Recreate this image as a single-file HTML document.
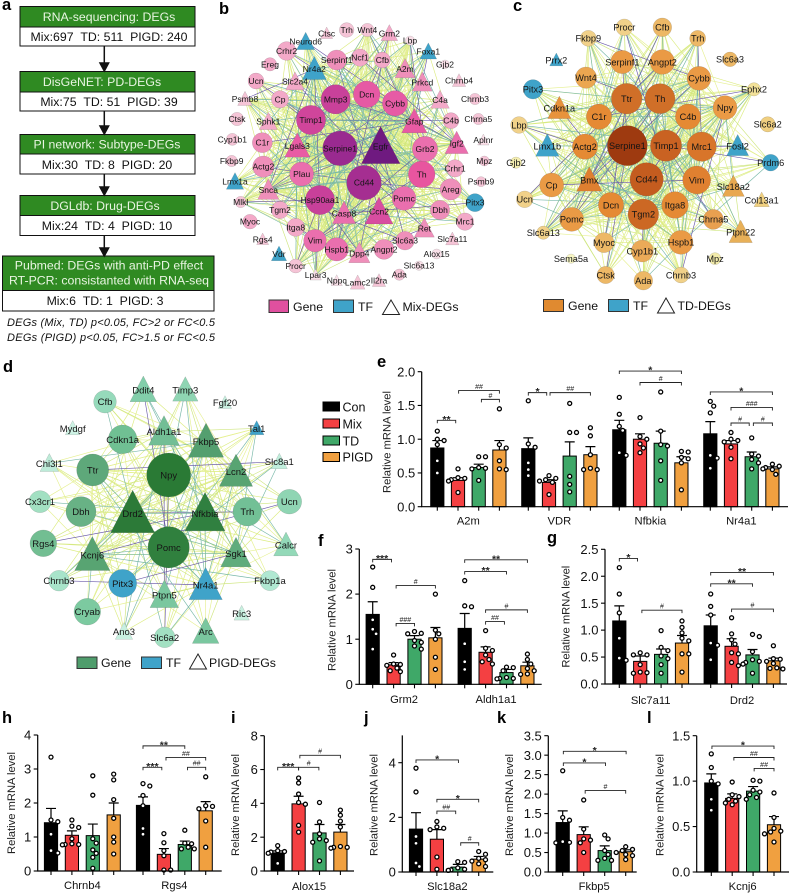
<!DOCTYPE html>
<html><head><meta charset="utf-8"><title>Subtype DEG figure</title>
<style>
html,body{margin:0;padding:0;background:#fff}
svg{display:block;font-family:"Liberation Sans",Arial,sans-serif}
</style></head><body>
<svg id="fig" width="790" height="894" viewBox="0 0 790 894" xmlns="http://www.w3.org/2000/svg">
<g font-size="12.3" text-anchor="middle">
<g>
<rect x="20" y="6.5" width="175" height="20.5" fill="#2f8a22" stroke="#111" stroke-width="1"/>
<rect x="20" y="27" width="175" height="19" fill="#fff" stroke="#111" stroke-width="1"/>
<text x="109" y="21" fill="#e9f5e2">RNA-sequencing: DEGs</text>
<text x="109" y="41" fill="#111">Mix:697&#160;&#160;TD: 511&#160;&#160;PIGD: 240</text></g>
<g>
<rect x="20" y="71.5" width="175" height="20.5" fill="#2f8a22" stroke="#111"/>
<rect x="20" y="92" width="175" height="19" fill="#fff" stroke="#111"/>
<text x="102" y="86" fill="#e9f5e2">DisGeNET: PD-DEGs</text>
<text x="109" y="106" fill="#111">Mix:75&#160;&#160;TD: 51&#160;&#160;PIGD: 39</text></g>
<g>
<rect x="20" y="134.5" width="175" height="19.5" fill="#2f8a22" stroke="#111"/>
<rect x="20" y="154" width="175" height="20" fill="#fff" stroke="#111"/>
<text x="107" y="148.5" fill="#e9f5e2">PI network: Subtype-DEGs</text>
<text x="107" y="169" fill="#111">Mix:30&#160;&#160;TD: 8&#160;&#160;PIGD: 20</text></g>
<g>
<rect x="20" y="195.5" width="175" height="20" fill="#2f8a22" stroke="#111"/>
<rect x="20" y="215.5" width="175" height="20" fill="#fff" stroke="#111"/>
<text x="105" y="210" fill="#e9f5e2">DGLdb: Drug-DEGs</text>
<text x="107" y="230" fill="#111">Mix:24&#160;&#160;TD: 4&#160;&#160;PIGD: 10</text></g>
<g>
<rect x="2.5" y="256" width="211.5" height="34.5" fill="#2f8a22" stroke="#111"/>
<rect x="2.5" y="290.5" width="211.5" height="20.5" fill="#fff" stroke="#111"/>
<text x="109" y="269.5" fill="#e9f5e2">Pubmed: DEGs with anti-PD effect</text>
<text x="109" y="284.5" fill="#e9f5e2">RT-PCR: consistanted with RNA-seq</text>
<text x="105" y="305" fill="#111">Mix:6&#160;&#160;TD: 1&#160;&#160;PIGD: 3</text></g>
<g stroke="#111" stroke-width="1.5" fill="#111">
<path d="M104.3 46V64M100 63h8.6l-4.3 8z"/>
<path d="M104.3 111V127M100 126h8.6l-4.3 8z"/>
<path d="M104.3 174V188M100 187h8.6l-4.3 8z"/>
<path d="M104.3 235.5V249M100 248h8.6l-4.3 8z"/></g>
<g font-style="italic" font-size="11" text-anchor="start" fill="#111">
<text x="7" y="326" textLength="208">DEGs (Mix, TD) p&lt;0.05, FC&gt;2 or FC&lt;0.5</text>
<text x="7" y="341" textLength="208">DEGs (PIGD) p&lt;0.05, FC&gt;1.5 or FC&lt;0.5</text></g>
</g>
<g font-size="16.5" font-weight="bold" fill="#000">
<text x="2" y="10">a</text>
<text x="219" y="14">b</text>
<text x="513" y="11">c</text>
<text x="3" y="372">d</text>
<text x="377" y="367">e</text>
<text x="318" y="546">f</text>
<text x="547" y="543">g</text>
<text x="2" y="723">h</text>
<text x="231" y="723">i</text>
<text x="364" y="723">j</text>
<text x="497" y="723">k</text>
<text x="647" y="723">l</text>
</g>
<g id="nets"></g>
<g font-size="12.3" fill="#111">
<rect x="269" y="300" width="19.5" height="12.5" fill="#e0509f" stroke="#333"/>
<text x="293" y="311">Gene</text>
<rect x="333.5" y="300" width="20" height="12.5" fill="#3fa3c9" stroke="#333"/>
<text x="358" y="311">TF</text>
<path d="M391 300L399.5 314.5H382.5Z" fill="#fff" stroke="#222"/>
<text x="402.5" y="311">Mix-DEGs</text>
</g>
<g font-size="12.3" fill="#111">
<rect x="543.5" y="299.5" width="20" height="12" fill="#e08a30" stroke="#333"/>
<text x="568" y="310">Gene</text>
<rect x="608.5" y="299.5" width="20" height="12" fill="#3fa3c9" stroke="#333"/>
<text x="633" y="310">TF</text>
<path d="M666 298L674.5 313H657.5Z" fill="#fff" stroke="#222"/>
<text x="677.5" y="310">TD-DEGs</text>
</g>
<g font-size="12.3" fill="#111">
<rect x="77" y="657" width="20" height="11.5" fill="#4f9d6c" stroke="#333"/>
<text x="101" y="667">Gene</text>
<rect x="141.5" y="657" width="20" height="11.5" fill="#3fa3c9" stroke="#333"/>
<text x="166" y="667">TF</text>
<path d="M198 654L206.5 669H189.5Z" fill="#fff" stroke="#222"/>
<text x="209" y="667">PIGD-DEGs</text>
</g>
<g font-size="12.5" fill="#111">
<rect x="323" y="402" width="16.5" height="9" fill="#000" stroke="#000"/>
<text x="342.5" y="411.5">Con</text>
<rect x="323" y="419" width="16.5" height="9" fill="#f44042" stroke="#000"/>
<text x="342.5" y="428.5">Mix</text>
<rect x="323" y="436" width="16.5" height="9" fill="#3fa868" stroke="#000"/>
<text x="342.5" y="445.5">TD</text>
<rect x="323" y="452.5" width="16.5" height="9" fill="#f0a040" stroke="#000"/>
<text x="342.5" y="461.5">PIGD</text>
</g>
<g id="charts"></g>
</svg>
<script>
/* ---------- bar chart data ---------- */
const genesE=['A2m','VDR','Nfbkia','Nr4a1'];
const ticksE=[0,0.5,1,1.5,2];
const tickLabelsE=['0.0','0.5','1.0','1.5','2.0'];
const meansE=[.87,.39,.58,.84, .86,.36,.75,.77, 1.14,1.0,.94,.65, 1.08,.93,.74,.56];
const errorsE=[.11,.04,.05,.14, .16,.04,.21,.12, .14,.08,.18,.09, .18,.05,.07,.03];
const pointsE=[[1.12,1.0,.98,.92,.68,.5],[.56,.43,.42,.40,.38,.21],[.74,.74,.58,.57,.56,.39],[1.45,.92,.87,.68,.56,.55],
[1.57,.93,.88,.65,.55,.46],[.46,.42,.40,.38,.36,.18],[1.53,1.1,.45,.33,.22,1.1],[1.17,1.05,.77,.57,.55,.55],
[1.62,1.37,1.19,1.13,.8,.76],[1.32,1.04,1.0,.93,.87,.8],[1.7,1.12,.92,.9,.68,.39],[.82,.81,.73,.71,.65,.25],
[1.56,1.49,1.39,.76,.72,.57],[1.1,1.0,.98,.96,.88,.71],[1.02,.78,.75,.7,.65,.56],[.63,.6,.58,.56,.55,.48]];
const bracketsE=[[0,.89,1.28,'**'],[1.03,3,1.72,'##'],[2.13,3,1.59,'#'],[4,4.89,1.69,'*'],[5.05,7,1.69,'##'],[8,11,2.01,'*'],[9,11,1.84,'#'],[12,15,1.70,'*'],[13,15,1.47,'###'],[13,13.88,1.24,'#'],[14.08,15,1.24,'#']];

const genesF=['Grm2','Aldh1a1'];
const ticksF=[0,1,2,3];
const tickLabelsF=['0','1','2','3'];
const meansF=[1.55,.43,1.0,1.03, 1.24,.71,.26,.41];
const errorsF=[.28,.05,.08,.23, .33,.12,.07,.08];
const pointsF=[[2.6,2.15,1.43,1.22,1.12,.78],[.65,.45,.44,.42,.36,.3,.28],[1.17,1.13,1.12,.97,.93,.85,.78],[2.0,1.2,1.12,1.0,.6,.33],
[2.3,1.74,1.72,.9,.5,.33],[1.19,.8,.75,.65,.55,.5,.45],[.38,.37,.3,.15,.13,.12,.13],[.67,.55,.45,.35,.3,.23,.22]];
const bracketsF=[[0,.9,2.77,'***'],[1.12,3,2.19,'#'],[1.12,2,1.35,'###'],[4,7,2.76,'**'],[4,6,2.5,'**'],[5,7,1.65,'#'],[5,5.9,1.39,'##']];

const genesG=['Slc7a11','Drd2'];
const ticksG=[0,.5,1,1.5,2,2.5];
const tickLabelsG=['0.0','0.5','1.0','1.5','2.0','2.5'];
const meansG=[1.17,.42,.55,.76, 1.08,.7,.54,.43];
const errorsG=[.28,.1,.1,.14, .2,.14,.1,.05];
const pointsG=[[2.16,1.67,1.32,.85,.48,.44],[.58,.54,.54,.36,.22,.2,.21],[.99,.68,.62,.52,.47,.36,.2],[1.17,1.05,.95,.85,.8,.56,.56,.22],
[1.67,1.44,1.28,.76,.72,.45],[1.23,.93,.82,.74,.58,.56,.4,.34],[.92,.88,.6,.45,.42,.4,.37,.2],[.71,.47,.46,.42,.38,.3,.29,.28]];
const bracketsG=[[0,.87,2.33,'*'],[1.08,3,1.37,'#'],[4,7,2.07,'**'],[4,6,1.86,'**'],[5,7,1.39,'#']];

const genesH=['Chrnb4','Rgs4'];
const ticksH=[0,1,2,3,4];
const tickLabelsH=['0','1','2','3','4'];
const meansH=[1.42,1.05,1.04,1.65, 1.93,.49,.78,1.77];
const errorsH=[.42,.13,.34,.35, .25,.17,.1,.27];
const pointsH=[[3.35,1.5,1.45,1.08,.6,.53],[1.5,1.32,1.28,.95,.8,.78,.77,.78],[2.8,2.23,.95,.82,.62,.52,.4,.08],[2.85,2.68,2.1,1.55,1.0,.85,.5],
[2.57,2.5,2.22,1.92,1.25,1.08],[1.1,.83,.6,.45,.03,.03],[1.2,.82,.8,.7,.65,.65],[2.77,1.9,1.92,1.83,1.47,.7]];
const bracketsH=[[4,6,3.68,'**'],[5.1,7,3.34,'##'],[4,4.9,3.05,'***'],[6.13,7,3.05,'##']];

const genesI=['Alox15'];
const ticksI=[0,2,4,6,8];
const tickLabelsI=['0','2','4','6','8'];
const meansI=[1.07,3.97,2.25,2.3];
const errorsI=[.12,.45,.5,.45];
const pointsI=[[1.5,1.2,1.15,1.12,1.05,.45],[5.5,5.2,4.55,4.05,3.95,2.7,2.3],[4.05,2.9,2.2,1.9,1.8,1.7,.6],[3.6,3.3,2.95,2.6,1.45,1.4,1.35,1.4]];
const bracketsI=[[0,1,6.13,'***'],[1,1.97,6.13,'#'],[1.06,3,6.84,'#']];

const genesJ=['Slc18a2'];
const ticksJ=[0,2,4];
const tickLabelsJ=['0','2','4'];
const meansJ=[1.57,1.2,.18,.47];
const errorsJ=[.6,.35,.1,.1];
const pointsJ=[[3.8,2.93,1.3,1.05,.33,.2],[1.85,1.65,1.6,1.55,.55,.1],[.38,.35,.15,.1,.08,.06,.06],[.75,.65,.5,.45,.4,.3,.2]];
const bracketsJ=[[0,2.03,4.1,'*'],[1,3,2.66,'*'],[1,1.9,2.23,'##'],[2.14,3,1.07,'#']];

const genesK=['Fkbp5'];
const ticksK=[0,.5,1,1.5,2,2.5,3,3.5];
const tickLabelsK=['0.0','0.5','1.0','1.5','2.0','2.5','3.0','3.5'];
const meansK=[1.27,.96,.55,.52];
const errorsK=[.3,.2,.12,.05];
const pointsK=[[2.6,1.4,1.33,.78,.76,.75],[1.85,1.1,.85,.82,.75,.5],[.95,.85,.55,.45,.35,.3,.3],[.65,.58,.55,.5,.45,.42,.32]];
const bracketsK=[[.03,3.02,3.1,'*'],[.03,2.04,2.8,'*'],[1.07,3,2.09,'#']];

const genesL=['Kcnj6'];
const ticksL=[0,.5,1,1.5];
const tickLabelsL=['0.0','0.5','1.0','1.5'];
const meansL=[.98,.81,.89,.52];
const errorsL=[.1,.05,.05,.09];
const pointsL=[[1.3,1.15,1.0,.97,.8,.68],[.99,.85,.83,.8,.78,.76,.74],[1.01,1.0,.9,.88,.85,.82,.8],[.87,.6,.48,.45,.44,.42,.33]];
const bracketsL=[[.03,3,1.386,'*'],[1.08,3,1.26,'##'],[2.05,3,1.14,'##']];

const barColors=['#000000','#f44042','#3fa868','#f0a040'];
const groupNames=['con','mix','td','pigd'];

/* panel geometry */
const panelLayouts=[
{id:'e',genes:genesE,ticks:ticksE,labels:tickLabelsE,means:meansE,errors:errorsE,points:pointsE,brackets:bracketsE,ax:421.7,right:788,y0:506.7,yTop:371.7,dMax:2,top:2,x0:437.3,step:20.7,pitch:91,tx:386.7,ty:442,lab:524.5},
{id:'f',genes:genesF,ticks:ticksF,labels:tickLabelsF,means:meansF,errors:errorsF,points:pointsF,brackets:bracketsF,ax:359.3,right:541.7,y0:684.3,yTop:549,dMax:3,top:3,x0:372.7,step:20.9,pitch:92,tx:331.7,ty:620,lab:703},
{id:'g',genes:genesG,ticks:ticksG,labels:tickLabelsG,means:meansG,errors:errorsG,points:pointsG,brackets:bracketsG,ax:605,right:787,y0:684,yTop:549.3,dMax:2.5,top:2.5,x0:619.3,step:20.9,pitch:91.4,tx:565.7,ty:616.7,lab:704},
{id:'h',genes:genesH,ticks:ticksH,labels:tickLabelsH,means:meansH,errors:errorsH,points:pointsH,brackets:bracketsH,ax:37.7,right:221.7,y0:871,yTop:735,dMax:4,top:4,x0:51,step:20.9,pitch:92,tx:11,ty:803,lab:889},
{id:'i',genes:genesI,ticks:ticksI,labels:tickLabelsI,means:meansI,errors:errorsI,points:pointsI,brackets:bracketsI,ax:264.3,right:354,y0:871,yTop:735.7,dMax:8,top:8,x0:277.7,step:20.9,pitch:92,tx:235,ty:805,lab:890},
{id:'j',genes:genesJ,ticks:ticksJ,labels:tickLabelsJ,means:meansJ,errors:errorsJ,points:pointsJ,brackets:bracketsJ,ax:402.3,right:493.3,y0:872,yTop:762.7,dMax:4,top:5,x0:416,step:20.9,pitch:92,tx:373.3,ty:805,lab:890},
{id:'k',genes:genesK,ticks:ticksK,labels:tickLabelsK,means:meansK,errors:errorsK,points:pointsK,brackets:bracketsK,ax:548.3,right:636.7,y0:872,yTop:735.7,dMax:3.5,top:3.5,x0:562.7,step:21,pitch:92,tx:509,ty:805,lab:890},
{id:'l',genes:genesL,ticks:ticksL,labels:tickLabelsL,means:meansL,errors:errorsL,points:pointsL,brackets:bracketsL,ax:696.7,right:789,y0:872,yTop:735.7,dMax:1.5,top:1.5,x0:711.3,step:20.9,pitch:92,tx:659.3,ty:805,lab:890}
];

const NS='http://www.w3.org/2000/svg';
function make(parent,tag,attrs,txt){
  const el=document.createElementNS(NS,tag);
  for(const k in attrs) el.setAttribute(k,attrs[k]);
  if(txt!==undefined) el.textContent=txt;
  parent.appendChild(el);
  return el;
}
function swarm(values,yFn){
  const placed=[];
  const sorted=values.slice().sort((a,b)=>b-a);
  sorted.forEach(v=>{
    const py=yFn(v);
    const cands=[0,3.4,-3.4,6.8,-6.8,9.5,-9.5];
    let chosen=cands[cands.length-1];
    for(const c of cands){
      if(placed.every(p=>Math.hypot(p.dx-c,p.py-py)>=4.8)){chosen=c;break;}
    }
    placed.push({dx:chosen,py:py,v:v});
  });
  return placed;
}
function drawPanel(p){
  const root=document.getElementById('charts');
  const g=make(root,'g',{});
  
  
  const y=v=>p.y0-(v/p.dMax)*(p.y0-p.yTop);
  const x=i=>p.x0+Math.floor(i/4)*p.pitch+(i%4)*p.step;
  const xf=f=>{const n=Math.floor(f);return x(n)+(f-n)*p.step;};
  const bw=13.2;
  /* bars */
  p.means.forEach((m,i)=>{
    const c=barColors[i%4];
    const bar=make(g,'rect',{x:x(i)-bw/2,y:y(m),width:bw,height:p.y0-y(m),fill:c,stroke:'#000','stroke-width':1});
    
    
  });
  /* error bars */
  p.errors.forEach((e,i)=>{
    const t=y(p.means[i]+e);
    const eb=make(g,'path',{d:'M'+x(i)+' '+y(p.means[i])+'V'+t+'M'+(x(i)-5)+' '+t+'H'+(x(i)+5),fill:'none',stroke:'#000','stroke-width':1.2});
    
    
  });
  /* points */
  p.points.forEach((vals,i)=>{
    swarm(vals,y).forEach(pt=>{
      const d=make(g,'circle',{cx:x(i)+pt.dx,cy:pt.py,r:2,fill:'#fff',stroke:'#000','stroke-width':1.3});
      
      
    });
  });
  /* axes */
  const axes=make(g,'path',{d:'M'+p.ax+' '+(p.y0-(p.top/p.dMax)*(p.y0-p.yTop))+'V'+p.y0+'H'+p.right,fill:'none',stroke:'#000','stroke-width':1.2});
  
  
  p.ticks.forEach((t,k)=>{
    const tk=make(g,'path',{d:'M'+(p.ax-4)+' '+y(t)+'H'+p.ax,stroke:'#000','stroke-width':1.1});
    
    
    const lb=make(g,'text',{x:p.ax-6.5,y:y(t)+4.6,'font-size':13,'text-anchor':'end',fill:'#111'},p.labels[k]);
    
    
  });
  p.means.forEach((m,i)=>{
    const tk=make(g,'path',{d:'M'+x(i)+' '+p.y0+'v4',stroke:'#000','stroke-width':1.1});
    
    
  });
  p.genes.forEach((name,k)=>{
    const cx=(x(k*4)+x(k*4+3))/2;
    const lb=make(g,'text',{x:cx,y:p.lab,'font-size':11.2,'text-anchor':'middle',fill:'#111'},name);
    
    
  });
  const title=make(g,'text',{transform:'translate('+p.tx+' '+p.ty+') rotate(-90)','font-size':11.2,'text-anchor':'middle',y:4,fill:'#222'},'Relative mRNA level');
  
  
  /* significance brackets */
  p.brackets.forEach(b=>{
    const x1=xf(b[0]),x2=xf(b[1]),yy=y(b[2]);
    const br=make(g,'path',{d:'M'+x1+' '+(yy+3)+'V'+yy+'H'+x2+'V'+(yy+3),fill:'none',stroke:'#222','stroke-width':.9});
    
    
    const star=b[3][0]==='*';
    const lb=make(g,'text',{x:(x1+x2)/2,y:star?yy+2.5:yy-1.6,'font-size':star?10.5:7,'text-anchor':'middle','font-weight':star?'bold':'normal',fill:'#222'},b[3]);
    
    
  });
}
panelLayouts.forEach(drawPanel);

/* ---------- networks: [label, x, y, size, shape(c/t), colour] in 3x crop units ---------- */
const P1='#f5c4d6',P2='#f3a9c8',P3='#ef8fba',P4='#ea6fae',B='#3fa3c9';
const netB=[['Egfr',527,440,58,'t','#6f1a80'],['Serpine1',405,445,52,'c','#9a2a90'],['Cd44',477,548,52,'c','#a52e91'],['Mmp3',392,298,44,'c','#c9419a'],['Timp1',318,360,44,'c','#d0459b'],['Hsp90aa1',345,600,44,'c','#c8409a'],['Th',650,523,40,'c','#e8559f'],['Dcn',485,283,40,'c','#e659a4'],['Cybb',570,310,38,'c','#e65ba5'],['Grb2',660,447,38,'c',P4],['Pomc',597,595,36,'c',P4],['Plau',290,522,36,'c',P4],['Ccn2',522,635,42,'t','#d84da0'],['Gfap',628,365,38,'t','#e85ba4'],['Lgals3',277,438,38,'t','#e85ba4'],['Casp8',417,640,35,'t',P4],['Igf2',755,430,35,'t',P4],['Vim',330,722,34,'c',P4],['Hspb1',395,748,35,'c',P4],['Snca',190,570,32,'t',P3],['Dpp4',463,760,32,'t',P3],['C1r',172,428,30,'c',P3],['Actg2',175,500,32,'c',P3],['Cp',225,298,26,'c',P2],['Ucn',153,243,24,'c',P2],['Crhr2',245,153,28,'c',P2],['Serpinf1',395,180,30,'c',P3],['Ncf1',465,173,26,'c',P2],['Cfb',532,180,24,'c',P2],['Trh',425,90,22,'c',P1],['Wnt4',487,90,20,'c',P1],['Ereg',195,193,20,'c',P2],['Ctsk',96,357,20,'c',P1],['Cyp1b1',82,418,18,'c',P1],['Fkbp9',80,483,17,'c',P1],['Mlkl',107,606,17,'c',P1],['Myoc',135,665,22,'c',P2],['Tgm2',225,630,26,'c',P2],['Itga8',272,682,27,'c',P2],['Angpt2',537,748,30,'c',P3],['Slc6a3',600,722,28,'c',P3],['Dbh',705,630,29,'c',P3],['Areg',737,568,32,'c',P3],['Crhr1',750,505,26,'c',P2],['C4b',738,362,24,'c',P2],['Mrc1',780,665,26,'c',P2],['Chrnb3',810,297,17,'c',P1],['Chrna5',820,357,17,'c',P1],['Mpz',838,483,15,'c',P1],['Psmb9',828,545,15,'c',P1],['Lbp',615,122,14,'c','#f9dfe8'],['Gjb2',720,193,13,'c','#f9dfe8'],['Alox15',695,762,15,'c','#f9dfe8'],['Slc6a13',642,797,14,'c','#f9dfe8'],['Ada',583,824,17,'c',P1],['Procr',272,798,21,'c',P1],['Pitx3',810,608,27,'c',B],['Ctsc',365,100,18,'t',P1],['Grm2',553,100,25,'t',P2],['Neurod6',302,125,27,'t',B],['Nr4a2',328,207,36,'t',B],['Foxa1',670,155,25,'t',B],['A2m',600,207,30,'t',P3],['Slc2a4',270,245,28,'t',P2],['Prkcd',652,247,30,'t',P3],['Psmb8',120,297,22,'t',P1],['C4a',705,300,28,'t',P2],['Chrnb4',762,242,20,'t',P1],['Sphk1',190,365,27,'t',P2],['Aplnr',835,420,17,'t','#f9dfe8'],['Lmx1a',90,545,26,'t',B],['Ret',658,685,30,'t',P3],['Slc7a11',742,717,20,'t',P1],['Rgs4',173,718,18,'t',P1],['Vdr',222,762,23,'t',B],['Lpar3',332,825,17,'t','#f9dfe8'],['Nppc',395,842,17,'t','#f9dfe8'],['Lamc2',458,848,22,'t',P1],['Il2ra',522,842,20,'t',P1]];
const O1='#f1d189',O2='#edb866',O3='#ea9a45',O4='#e58a34';
const netC=[['Serpine1',412,437,60,'c','#9e3a10'],['Cd44',470,538,50,'c','#c45c1f'],['Timp1',528,437,47,'c','#c96222'],['Ttr',410,296,46,'c','#d06f28'],['Tgm2',460,643,46,'c','#cc6824'],['Th',510,296,45,'c','#d06f28'],['Mrc1',635,440,44,'c','#d8752a'],['Vim',620,540,42,'c','#e08030'],['Itga8',555,615,40,'c',O4],['Bmx',298,540,38,'t','#df7f30'],['C1r',327,350,38,'c',O4],['C4b',594,350,38,'c',O4],['Actg2',285,440,38,'c',O4],['Dcn',363,615,38,'c',O4],['Pomc',245,658,36,'c',O3],['Hspb1',573,727,36,'c',O3],['Cp',185,555,36,'c',O3],['Npy',705,323,36,'c',O3],['Cybb',627,235,36,'c',O3],['Angpt2',517,186,37,'c',O3],['Serpinf1',397,186,35,'c',O3],['Wnt4',288,233,32,'c','#eba650'],['Chrna5',670,658,30,'c','#e8a050'],['Myoc',342,728,30,'c',O2],['Cyp1b1',457,753,33,'c','#ebaa58'],['Cfb',517,82,28,'c',O2],['Trh',623,115,24,'c',O2],['Slc6a3',720,178,22,'c',O2],['Procr',403,82,25,'c',O1],['Fkbp9',295,115,24,'c',O1],['Ephx2',792,268,20,'c','#f2e199'],['Slc6a2',833,373,23,'c','#f0cf80'],['Lbp',87,375,25,'c',O1],['Gjb2',78,488,17,'c','#f4eeb0'],['Ucn',104,598,25,'c',O1],['Slc6a13',160,698,20,'c',O1],['Sema5a',243,776,14,'c','#f8f6c4'],['Mpz',675,776,18,'c','#f2ebaa'],['Chrnb3',573,825,24,'c',O1],['Ada',460,842,28,'c',O2],['Ctsk',347,825,26,'c',O2],['Pitx3',129,268,29,'c',B],['Prdm6',842,488,25,'c',B],['Prrx2',199,180,20,'t',B],['Cdkn1a',208,325,35,'t','#e8933c'],['Lmx1b',172,438,35,'t',B],['Fosl2',743,438,33,'t',B],['Slc18a2',730,560,33,'t','#e8a850'],['Col13a1',815,600,23,'t','#f0d080'],['Ptpn22',752,697,35,'t','#e8b058']];
const G1='#c8f0e0',G2='#a2e0c2',G3='#8fd5b3',G4='#72be95';
const netD=[['Npy',506,375,66,'c','#2a7a35'],['Pomc',506,592,62,'c','#30803e'],['Drd2',398,490,66,'t','#2c7a38'],['Nfkbia',615,490,60,'t','#308040'],['Fkbp5',618,275,53,'t','#549f6f'],['Kcnj6',277,615,53,'t','#58a472'],['Lcn2',708,365,50,'t','#58a472'],['Ttr',278,360,48,'c','#5ea87a'],['Dbh',243,485,45,'c','#68b285'],['Sgk1',708,610,46,'t','#60ac7c'],['Aldh1a1',492,245,46,'t',G4],['Trh',742,485,43,'c','#72c096'],['Cdkn1a',368,268,43,'c','#70c093'],['Rgs4',130,580,40,'c','#72be92'],['Cfb',315,155,34,'c','#96dabb'],['Ucn',868,455,37,'c',G3],['Cx3cr1',120,455,33,'c',G2],['Chrnb3',177,692,31,'c','#a8e4ca'],['Cryab',262,785,40,'c','#7ccaa0'],['Pitx3',368,700,42,'c',B],['Slc6a2',494,862,31,'c',G2],['Fkbp1a',810,692,30,'c','#b0e8d2'],['Ddit4',430,120,40,'t','#82ceaa'],['Timp3',556,120,38,'t',G3],['Fgf20',675,158,20,'t',G1],['Tal1',770,235,22,'t',B],['Mydgf',218,235,22,'t','#cdf2e4'],['Chi3l1',148,340,28,'t','#bdebd8'],['Slc8a1',838,335,24,'t','#c0eedc'],['Calcr',858,585,37,'t','#93d9b8'],['Ptpn5',493,735,43,'t','#7ac79f'],['Nr4a1',617,705,50,'t',B],['Ric3',725,790,23,'t',G1],['Ano3',372,845,26,'t',G1],['Arc',617,845,40,'t','#7ac79f']];

const edgeYellow=['#dcec80','#e6f092','#cfe67f'];
function drawNet(name,nodes,ox,oy,hubCount,fontSize,skipMod){
  const root=document.getElementById('nets');
  const g=make(root,'g',{});
  
  
  const edges=make(g,'g',{fill:'none','stroke-width':.65});
  
  
  const X=n=>ox+n[1]/3, Y=n=>oy+n[2]/3;
  const hubs=nodes.slice().sort((a,b)=>b[3]-a[3]).slice(0,hubCount);
  const pairs=[];
  hubs.forEach((h,i)=>{
    nodes.forEach((n,j)=>{
      if(n===h) return;
      const sel=i*5+j*7;
      /* small outer nodes have few links, larger nodes have many */
      if(n[3]<24){ if(sel%5!==0) return; }
      else if(sel%skipMod===0) return;
      const k=(i*3+j*7)%20;
      pairs.push([h,n,k]);
    });
  });
  /* pale links first so the darker ones stay visible */
  pairs.sort((a,b)=>(b[2]>3?1:0)-(a[2]>3?1:0));
  pairs.forEach(pr=>{
    const k=pr[2];
    const col=k===0?'#6a5aa8':(k<=3?'#78b8a8':edgeYellow[k%3]);
    const ln=make(edges,'line',{x1:X(pr[0]),y1:Y(pr[0]),x2:X(pr[1]),y2:Y(pr[1]),stroke:col});
    
    
  });
  nodes.forEach(n=>{
    const r=n[3]/3;
    let el;
    if(n[4]==='c'){
      el=make(g,'circle',{cx:X(n),cy:Y(n),r:r,fill:n[5],stroke:'rgba(70,70,70,.35)','stroke-width':.4});
    }else{
      const top=Y(n)-1.05*r,bot=Y(n)+0.88*r;
      el=make(g,'polygon',{points:X(n)+','+top+' '+(X(n)+r)+','+bot+' '+(X(n)-r)+','+bot,fill:n[5],stroke:'rgba(70,70,70,.35)','stroke-width':.4});
    }
    
    
  });
  nodes.forEach(n=>{
    const t=make(g,'text',{x:X(n),y:Y(n)+fontSize*.36,'font-size':fontSize,'text-anchor':'middle',fill:'#151515'},n[0]);
    
    
  });
}
drawNet('b-mix',netB,205,0,22,8.5,3);
drawNet('c-td',netC,490,0,20,9.2,3);
drawNet('d-pigd',netD,0,350,11,9.5,3);
</script>
</body></html>
